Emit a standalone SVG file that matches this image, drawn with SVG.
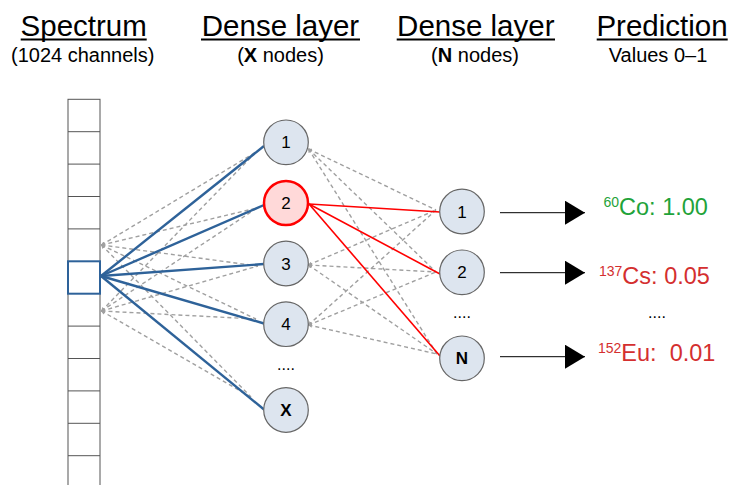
<svg xmlns="http://www.w3.org/2000/svg" width="730" height="485" viewBox="0 0 730 485">
<style>
text{font-family:"Liberation Sans",Arial,sans-serif;}
.h{font-size:29.5px;text-anchor:middle;fill:#000;}
.s{font-size:20px;text-anchor:middle;fill:#000;}
.ul{stroke:#000;stroke-width:2;}
.cell{fill:none;stroke:#555;stroke-width:1;}
.node{fill:#dde5ef;stroke:#666;stroke-width:1.2;}
.lbl{font-size:17px;text-anchor:middle;fill:#000;}
.dash{fill:none;stroke:#a0a0a0;stroke-width:1.4;stroke-dasharray:4 3;}
.blue{fill:none;stroke:#2e6299;stroke-width:2.4;}
.red{fill:none;stroke:#f00;stroke-width:1.6;}
.arr{fill:none;stroke:#000;stroke-width:1;}
.dots{font-size:16px;text-anchor:middle;fill:#000;}
.pg{font-size:23.5px;fill:#1fa33a;}
.pr{font-size:23.5px;fill:#d42f2f;}
.sup{font-size:14px;}
</style>
<defs>
<marker id="tip" viewBox="0 0 6 6" refX="5" refY="3" markerWidth="3" markerHeight="3" orient="auto-start-reverse">
<path d="M0,0 L6,3 L0,6 z" fill="#a0a0a0"/>
</marker>
<marker id="big" viewBox="0 0 20 24" refX="20" refY="12" markerWidth="20" markerHeight="24" markerUnits="userSpaceOnUse" orient="auto">
<path d="M0,0 L20,12 L0,24 z" fill="#000"/>
</marker>
</defs>

<g id="headers">
<text class="h" x="83.7" y="36">Spectrum</text>
<line class="ul" x1="20.7" y1="39.5" x2="146.7" y2="39.5"/>
<text class="s" x="82.7" y="61.5">(1024 channels)</text>
<text class="h" x="280.5" y="36">Dense layer</text>
<line class="ul" x1="201" y1="39.5" x2="360" y2="39.5"/>
<text class="s" x="280.5" y="61.5">(<tspan font-weight="bold">X</tspan> nodes)</text>
<text class="h" x="475.8" y="36">Dense layer</text>
<line class="ul" x1="396.7" y1="39.5" x2="555" y2="39.5"/>
<text class="s" x="475" y="61.5">(<tspan font-weight="bold">N</tspan> nodes)</text>
<text class="h" x="662" y="36">Prediction</text>
<line class="ul" x1="596.7" y1="39.5" x2="727.7" y2="39.5"/>
<text class="s" x="658" y="61.5">Values 0–1</text>
</g>

<g id="spectrum">
<rect class="cell" x="68" y="99.3" width="32" height="400"/>
<line class="cell" x1="68" y1="131.7" x2="100" y2="131.7"/>
<line class="cell" x1="68" y1="164.1" x2="100" y2="164.1"/>
<line class="cell" x1="68" y1="196.5" x2="100" y2="196.5"/>
<line class="cell" x1="68" y1="228.9" x2="100" y2="228.9"/>
<line class="cell" x1="68" y1="326.1" x2="100" y2="326.1"/>
<line class="cell" x1="68" y1="358.5" x2="100" y2="358.5"/>
<line class="cell" x1="68" y1="390.9" x2="100" y2="390.9"/>
<line class="cell" x1="68" y1="423.3" x2="100" y2="423.3"/>
<line class="cell" x1="68" y1="455.7" x2="100" y2="455.7"/>
<rect x="68" y="261.3" width="32" height="32.4" fill="#fff" stroke="#2e6299" stroke-width="2"/>
</g>

<g id="connectors">
<line class="dash" marker-start="url(#tip)" x1="101.5" y1="245" x2="256" y2="152"/>
<line class="dash" marker-start="url(#tip)" x1="101.5" y1="245" x2="257" y2="208"/>
<line class="dash" marker-start="url(#tip)" x1="101.5" y1="245" x2="258" y2="266"/>
<line class="dash" marker-start="url(#tip)" x1="101.5" y1="245" x2="256" y2="319"/>
<line class="dash" marker-start="url(#tip)" x1="101.5" y1="245" x2="251" y2="397"/>
<line class="dash" marker-start="url(#tip)" x1="101.5" y1="311" x2="256" y2="152"/>
<line class="dash" marker-start="url(#tip)" x1="101.5" y1="311" x2="257" y2="208"/>
<line class="dash" marker-start="url(#tip)" x1="101.5" y1="311" x2="258" y2="266"/>
<line class="dash" marker-start="url(#tip)" x1="101.5" y1="311" x2="256" y2="319"/>
<line class="dash" marker-start="url(#tip)" x1="101.5" y1="311" x2="251" y2="397"/>
<line class="blue" x1="101" y1="276" x2="264" y2="146"/>
<line class="blue" x1="101" y1="276" x2="264" y2="205"/>
<line class="blue" x1="101" y1="276" x2="264" y2="264"/>
<line class="blue" x1="101" y1="276" x2="264" y2="323.5"/>
<line class="blue" x1="101" y1="276" x2="264" y2="409.5"/>
<line class="dash" marker-start="url(#tip)" x1="308.5" y1="149" x2="436" y2="210"/>
<line class="dash" marker-start="url(#tip)" x1="308.5" y1="149" x2="436" y2="272"/>
<line class="dash" marker-start="url(#tip)" x1="308.5" y1="149" x2="437" y2="354"/>
<line class="dash" marker-start="url(#tip)" x1="308.5" y1="265" x2="436" y2="210"/>
<line class="dash" marker-start="url(#tip)" x1="308.5" y1="265" x2="436" y2="272"/>
<line class="dash" marker-start="url(#tip)" x1="308.5" y1="265" x2="437" y2="354"/>
<line class="dash" marker-start="url(#tip)" x1="308.5" y1="325" x2="436" y2="210"/>
<line class="dash" marker-start="url(#tip)" x1="308.5" y1="325" x2="436" y2="272"/>
<line class="dash" marker-start="url(#tip)" x1="308.5" y1="325" x2="437" y2="354"/>
<line class="red" x1="309" y1="204" x2="440" y2="212"/>
<line class="red" x1="309" y1="204" x2="440" y2="274"/>
<line class="red" x1="309" y1="204" x2="440" y2="356"/>
<line class="arr" marker-end="url(#big)" x1="500" y1="212.7" x2="585" y2="212.7"/>
<line class="arr" marker-end="url(#big)" x1="500" y1="272.7" x2="585" y2="272.7"/>
<line class="arr" marker-end="url(#big)" x1="500" y1="356.7" x2="585" y2="356.7"/>
</g>

<g id="h1"><circle class="node" cx="286" cy="142.3" r="22.3"/><text class="lbl" x="286" y="148.3">1</text></g>
<g id="h2"><circle cx="286" cy="203" r="22" fill="#ffd9d9" stroke="#f00" stroke-width="2.5"/><text class="lbl" x="286" y="209">2</text></g>
<g id="h3"><circle class="node" cx="286" cy="263.5" r="22.3"/><text class="lbl" x="286" y="269.5">3</text></g>
<g id="h4"><circle class="node" cx="286" cy="324.2" r="22.3"/><text class="lbl" x="286" y="330.2">4</text></g>
<text class="dots" x="286" y="370">....</text>
<g id="hX"><circle class="node" cx="286" cy="410" r="22.3"/><text class="lbl" x="286" y="416" font-weight="bold">X</text></g>

<g id="o1"><circle class="node" cx="462" cy="211.5" r="22.3"/><text class="lbl" x="462" y="217.5">1</text></g>
<g id="o2"><circle class="node" cx="462" cy="272.3" r="22.3"/><text class="lbl" x="462" y="278.3">2</text></g>
<text class="dots" x="462" y="317.5">....</text>
<g id="oN"><circle class="node" cx="462" cy="358.3" r="22.3"/><text class="lbl" x="462" y="364.3" font-weight="bold">N</text></g>

<g id="predictions">
<text class="pg" x="603.5" y="214.5"><tspan class="sup" dy="-8">60</tspan><tspan dy="8">Co: 1.00</tspan></text>
<text class="pr" x="599" y="283.5"><tspan class="sup" dy="-8">137</tspan><tspan dy="8">Cs: 0.05</tspan></text>
<text class="dots" x="657" y="317.7">....</text>
<text class="pr" x="598" y="361" xml:space="preserve"><tspan class="sup" dy="-8">152</tspan><tspan dy="8">Eu:  0.01</tspan></text>
</g>
</svg>
